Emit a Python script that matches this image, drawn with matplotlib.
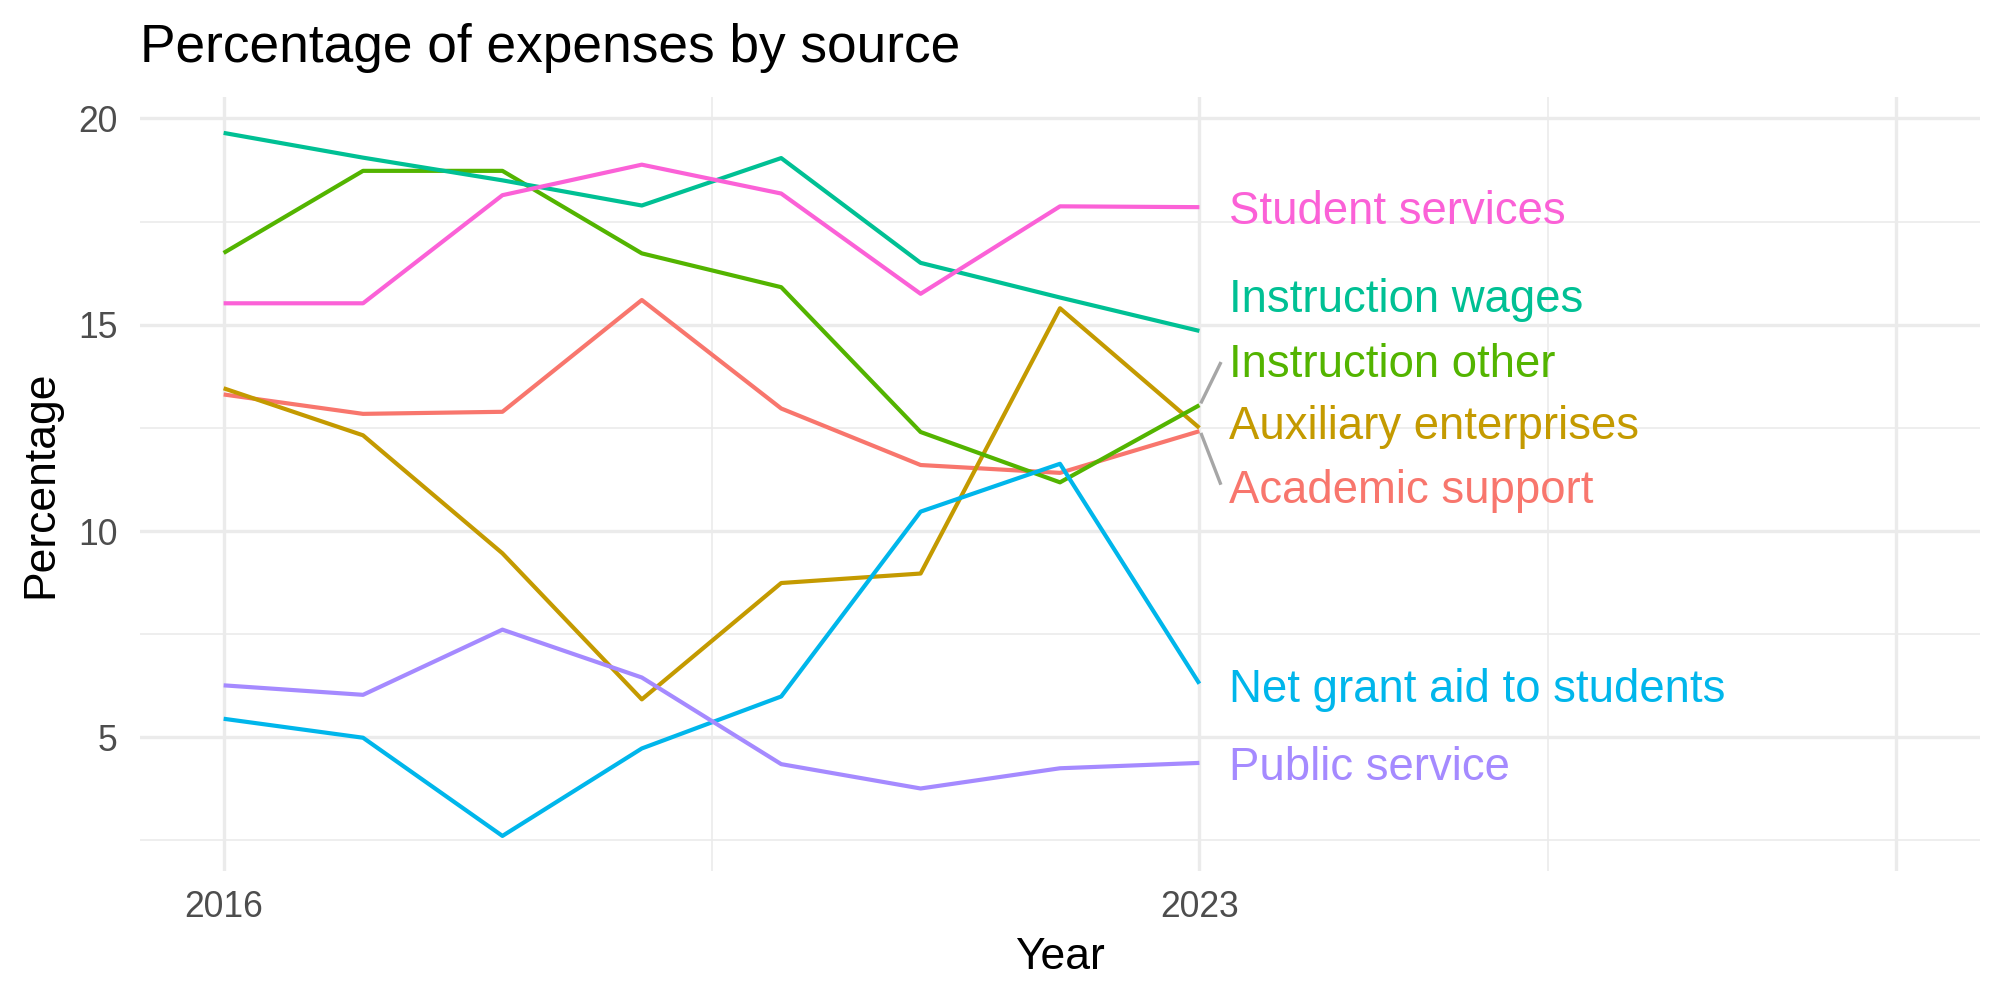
import matplotlib
matplotlib.use('Agg')
import matplotlib.pyplot as plt
from matplotlib.ticker import FixedLocator

plt.rcParams['font.family'] = ['Liberation Sans', 'DejaVu Sans']

years = [2016, 2017, 2018, 2019, 2020, 2021, 2022, 2023]

academic_support = [13.31, 12.84, 12.89, 15.60, 12.97, 11.60, 11.41, 12.42]
auxiliary_enterprises = [13.46, 12.32, 9.46, 5.92, 8.74, 8.97, 15.40, 12.50]
instruction_other = [16.74, 18.73, 18.73, 16.73, 15.91, 12.40, 11.18, 13.05]
instruction_wages = [19.65, 19.05, 18.50, 17.89, 19.04, 16.50, 15.66, 14.85]
net_grant_aid = [5.45, 4.99, 2.61, 4.73, 5.99, 10.47, 11.63, 6.30]
public_service = [6.26, 6.03, 7.61, 6.45, 4.35, 3.76, 4.25, 4.38]
student_services = [15.52, 15.52, 18.14, 18.88, 18.18, 15.75, 17.87, 17.85]

names = ['Academic support', 'Auxiliary enterprises', 'Instruction other',
         'Instruction wages', 'Net grant aid to students', 'Public service',
         'Student services']
series = [academic_support, auxiliary_enterprises, instruction_other,
          instruction_wages, net_grant_aid, public_service, student_services]
colors = ['#F8766D', '#C49A00', '#53B400', '#00C094', '#00B6EB', '#A58AFF', '#FB61D7']

# repelled label baselines (label positions, not data)
label_y = [10.68, 12.22, 13.74, 15.32, 5.86, 3.97, 17.44]
label_x = 2023.21

fig = plt.figure(figsize=(10, 5), dpi=200)
ax = fig.add_axes([0.07, 0.129, 0.92, 0.774])

for name, vals, col, ly in zip(names, series, colors, label_y):
    ax.plot(years, vals, color=col, lw=1.5, solid_capstyle='butt', zorder=3)
    ax.text(label_x, ly, name, color=col, fontsize=16.4, va='baseline', ha='left', zorder=4)

# leader segments for the two labels pushed away from their line ends
for vals, ly in [(instruction_other, 13.74), (academic_support, 10.68)]:
    end = vals[-1]
    center = ly + 0.4
    direction = 1 if center > end else -1
    ax.plot([2023.015, 2023.15], [end + direction * 0.08, center - direction * 0.08],
            color='#A6A6A6', lw=1.2, zorder=3)

ax.set_xlim(2015.4, 2028.6)
ax.set_ylim(1.76, 20.52)

ax.xaxis.set_major_locator(FixedLocator([2016, 2023, 2028]))
ax.xaxis.set_minor_locator(FixedLocator([2019.5, 2025.5]))
ax.set_xticklabels(['2016', '2023', ''])
ax.yaxis.set_major_locator(FixedLocator([5, 10, 15, 20]))
ax.yaxis.set_minor_locator(FixedLocator([2.5, 7.5, 12.5, 17.5]))

ax.grid(which='major', color='#EBEBEB', lw=1.2)
ax.grid(which='minor', color='#EBEBEB', lw=0.6)
ax.set_axisbelow(True)
for s in ax.spines.values():
    s.set_visible(False)
ax.tick_params(which='both', length=0, labelsize=12.8, labelcolor='#4D4D4D')
ax.tick_params(axis='y', pad=8)
ax.tick_params(axis='x', pad=7)

ax.set_xlabel('Year', fontsize=16, labelpad=4)
ax.set_ylabel('Percentage', fontsize=16, labelpad=6)
fig.text(0.07, 0.952, 'Percentage of expenses by source', fontsize=19.2, ha='left', va='center')

fig.savefig('out.png', dpi=200)
